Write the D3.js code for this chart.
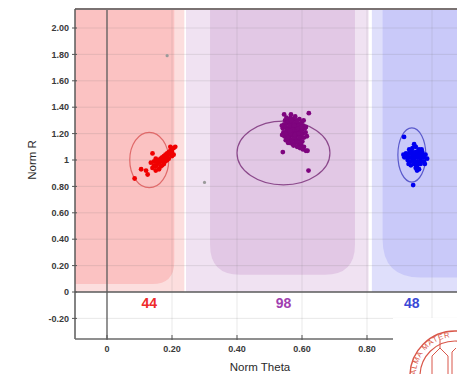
<!DOCTYPE html>
<html>
<head>
<meta charset="utf-8">
<script src="https://cdn.jsdelivr.net/npm/d3@7"></script>
<style>
html,body{margin:0;padding:0;background:#fff;}
svg{display:block;font-family:"Liberation Sans",Arial,sans-serif;}
</style>
</head>
<body>
<svg id="chart" width="457" height="374"></svg>
<script>
// ---------- data ----------
const thetaTicks = [0, 0.2, 0.4, 0.6, 0.8];
const thetaTickLabels = ["0", "0.20", "0.40", "0.60", "0.80"];
const rTicks = [-0.2, 0, 0.2, 0.4, 0.6, 0.8, 1.0, 1.2, 1.4, 1.6, 1.8, 2.0];
const rTickLabels = ["-0.20", "0", "0.20", "0.40", "0.60", "0.80", "1", "1.20", "1.40", "1.60", "1.80", "2.00"];

const clusterNames = ["AA", "AB", "BB"];
const clusterCounts = [44, 98, 48];

// classification regions (Norm Theta ranges / lower Norm R bound)
const outerTheta = [[-0.3, 0.238], [0.243, 0.805], [0.815, 1.4]];
const innerTheta = [[-0.3, 0.207], [0.317, 0.763], [0.848, 1.4]];
const innerRmin = [0.06, 0.13, 0.11];

// cluster ellipses
const ellipseCenters = [[0.13, 1.0], [0.543, 1.053], [0.938, 1.038]];
const ellipseRadii = [[0.06, 0.21], [0.143, 0.242], [0.043, 0.205]];

// samples [Norm Theta, Norm R]
const aaPoints = [
  [0.085,0.86],[0.140,1.05],[0.135,0.98],[0.120,0.92],[0.125,0.89],[0.105,0.93],
  [0.140,0.94],[0.145,0.96],[0.150,0.95],[0.155,0.97],[0.155,0.99],[0.160,0.98],
  [0.160,1.00],[0.165,0.99],[0.165,1.01],[0.170,1.00],[0.170,1.02],[0.175,1.01],
  [0.175,1.03],[0.180,1.02],[0.180,1.04],[0.185,1.03],[0.185,1.05],[0.190,1.04],
  [0.190,1.06],[0.195,1.05],[0.195,1.07],[0.200,1.06],[0.200,1.08],[0.205,1.09],
  [0.210,1.10],[0.205,1.04],[0.150,0.92],[0.160,0.93],[0.165,0.95],[0.170,0.96],
  [0.145,0.99],[0.150,1.01],[0.175,0.97],[0.180,0.99],[0.185,1.00],[0.190,1.01],
  [0.200,1.03],[0.195,1.10]
];
const abPoints = [
  [0.548,1.30],[0.556,1.31],[0.565,1.32],[0.574,1.31],[0.583,1.30],[0.592,1.31],[0.600,1.29],
  [0.545,1.27],[0.553,1.28],[0.561,1.27],[0.570,1.28],[0.578,1.27],[0.587,1.28],[0.596,1.27],[0.604,1.26],
  [0.541,1.24],[0.550,1.25],[0.558,1.24],[0.567,1.25],[0.575,1.24],[0.584,1.25],[0.592,1.24],[0.601,1.23],[0.609,1.24],
  [0.543,1.21],[0.552,1.22],[0.560,1.21],[0.569,1.22],[0.577,1.21],[0.586,1.22],[0.594,1.21],[0.603,1.20],[0.611,1.21],
  [0.546,1.18],[0.555,1.19],[0.563,1.18],[0.572,1.19],[0.580,1.18],[0.589,1.19],[0.597,1.18],[0.606,1.17],
  [0.550,1.15],[0.559,1.16],[0.567,1.15],[0.576,1.16],[0.584,1.15],[0.593,1.16],[0.601,1.14],
  [0.562,1.13],[0.571,1.12],[0.580,1.13],[0.590,1.12],[0.598,1.11],[0.606,1.10],
  [0.585,1.10],[0.594,1.09],[0.603,1.08],[0.612,1.07],
  [0.557,1.29],[0.571,1.29],[0.585,1.29],[0.562,1.26],[0.576,1.26],[0.590,1.26],[0.556,1.23],
  [0.571,1.23],[0.583,1.23],[0.597,1.22],[0.548,1.20],[0.565,1.20],[0.581,1.20],[0.590,1.20],
  [0.557,1.17],[0.575,1.17],[0.592,1.17],[0.568,1.14],[0.583,1.14],[0.596,1.13],
  [0.552,1.32],[0.579,1.33],[0.605,1.30],[0.612,1.25],[0.538,1.26],[0.539,1.19],[0.615,1.18],
  [0.557,1.13],[0.574,1.11],[0.588,1.24],[0.566,1.30],[0.599,1.25],[0.578,1.19],[0.563,1.22],
  [0.545,1.345],[0.566,1.345],[0.621,1.355],[0.541,1.06],[0.617,1.07],[0.620,0.92]
];
const bbPoints = [
  [0.930,1.08],[0.940,1.09],[0.950,1.10],[0.960,1.08],[0.945,1.12],
  [0.920,1.05],[0.930,1.05],[0.940,1.06],[0.950,1.06],[0.960,1.05],[0.970,1.06],[0.980,1.04],
  [0.915,1.02],[0.925,1.03],[0.935,1.02],[0.945,1.03],[0.955,1.02],[0.965,1.03],[0.975,1.02],[0.985,1.01],
  [0.925,1.00],[0.935,0.99],[0.945,1.00],[0.955,0.99],[0.965,1.00],[0.975,0.99],
  [0.935,0.96],[0.945,0.97],[0.955,0.96],[0.965,0.97],[0.950,0.94],[0.960,0.93],[0.954,0.92],
  [0.940,1.04],[0.950,1.04],[0.960,1.02],[0.942,1.01],[0.958,1.07],[0.968,1.08],[0.972,1.04],
  [0.932,1.07],[0.948,0.98],[0.962,0.98],[0.928,0.97],[0.978,0.97],[0.912,1.04],
  [0.914,1.175],[0.942,0.81]
];
const unclassifiedPoints = [[0.185,1.79],[0.30,0.83]];

// ---------- styles ----------
const outerColors = ["#fcdede", "#f0e2f2", "#dfdffb"];
const innerColors = ["#fbc2c2", "#e2c8e5", "#c9c9f9"];
const pointColors = ["#f00000", "#7e047e", "#0000f0"];
const ellipseColors = ["#e06a6a", "#8c4a8c", "#5a5acc"];
const countColors = ["#ee2a2a", "#a040b0", "#3a48d6"];
const cornerR = [[0, 22], [30, 30], [38, 0]];

// ---------- scales ----------
const W = 457, H = 374;
const plot = {left: 75, top: 9, right: 470, bottom: 339};
const x = d3.scaleLinear().domain([0, 0.8]).range([107, 367]);
const y = d3.scaleLinear().domain([0, 2.0]).range([292, 28]);

const svg = d3.select("#chart");
svg.append("defs").append("clipPath").attr("id", "clip")
  .append("rect").attr("x", plot.left).attr("y", plot.top)
  .attr("width", plot.right - plot.left).attr("height", plot.bottom - plot.top);

const g = svg.append("g").attr("clip-path", "url(#clip)");
g.append("rect").attr("x", plot.left).attr("y", plot.top)
  .attr("width", plot.right - plot.left).attr("height", plot.bottom - plot.top).attr("fill", "#fff");

function regionPath(x0, x1, yTop, yBot, rl, rr) {
  const p = d3.path();
  p.moveTo(x0, yTop);
  p.lineTo(x1, yTop);
  if (rr > 0) { p.lineTo(x1, yBot - rr); p.quadraticCurveTo(x1, yBot, x1 - rr, yBot); }
  else p.lineTo(x1, yBot);
  if (rl > 0) { p.lineTo(x0 + rl, yBot); p.quadraticCurveTo(x0, yBot, x0, yBot - rl); }
  else p.lineTo(x0, yBot);
  p.closePath();
  return p.toString();
}

clusterNames.forEach((name, i) => {
  g.append("path")
    .attr("d", regionPath(x(outerTheta[i][0]), x(outerTheta[i][1]), y(2.3), y(0), 0, 0))
    .attr("fill", outerColors[i]);
});
clusterNames.forEach((name, i) => {
  g.append("path")
    .attr("d", regionPath(x(innerTheta[i][0]), x(innerTheta[i][1]), y(2.3), y(innerRmin[i]), cornerR[i][0], cornerR[i][1]))
    .attr("fill", innerColors[i]);
});

// grid
g.selectAll("line.vg").data(thetaTicks.filter(d => d !== 0).concat([1.0])).enter().append("line")
  .attr("x1", d => x(d)).attr("x2", d => x(d)).attr("y1", plot.top).attr("y2", plot.bottom)
  .attr("stroke", "rgba(110,110,110,0.16)").attr("stroke-width", 1);
g.selectAll("line.hg").data(rTicks.filter(d => d !== 0)).enter().append("line")
  .attr("x1", plot.left).attr("x2", plot.right).attr("y1", d => y(d)).attr("y2", d => y(d))
  .attr("stroke", "rgba(110,110,110,0.16)").attr("stroke-width", 1);

// zero lines
g.append("line").attr("x1", x(0)).attr("x2", x(0)).attr("y1", plot.top).attr("y2", plot.bottom)
  .attr("stroke", "#5a5a5a").attr("stroke-width", 1.3);
g.append("line").attr("x1", plot.left).attr("x2", plot.right).attr("y1", y(0)).attr("y2", y(0))
  .attr("stroke", "#5a5a5a").attr("stroke-width", 1.5);

// ellipses
clusterNames.forEach((name, i) => {
  const c = ellipseCenters[i], r = ellipseRadii[i];
  g.append("ellipse")
    .attr("cx", x(c[0])).attr("cy", y(c[1]))
    .attr("rx", x(c[0] + r[0]) - x(c[0])).attr("ry", y(c[1]) - y(c[1] + r[1]))
    .attr("fill", "none").attr("stroke", ellipseColors[i]).attr("stroke-width", 1.2);
});

// points
[aaPoints, abPoints, bbPoints].forEach((pts, i) => {
  g.selectAll(null).data(pts).enter().append("circle")
    .attr("cx", d => x(d[0])).attr("cy", d => y(d[1])).attr("r", 2.4)
    .attr("fill", pointColors[i]);
});
g.selectAll(null).data(unclassifiedPoints).enter().append("circle")
  .attr("cx", d => x(d[0])).attr("cy", d => y(d[1])).attr("r", 1.6)
  .attr("fill", "#9a9a9a");

// counts
clusterNames.forEach((name, i) => {
  g.append("text").attr("x", x(ellipseCenters[i][0])).attr("y", y(-0.085))
    .attr("text-anchor", "middle").attr("dominant-baseline", "central")
    .attr("font-size", 14).attr("font-weight", "bold").attr("fill", countColors[i])
    .text(clusterCounts[i]);
});

// frame
svg.append("line").attr("x1", plot.left).attr("x2", W).attr("y1", plot.top).attr("y2", plot.top)
  .attr("stroke", "#7a7272").attr("stroke-width", 2);
svg.append("line").attr("x1", plot.left).attr("x2", plot.left).attr("y1", plot.top).attr("y2", plot.bottom)
  .attr("stroke", "#5a5a5a").attr("stroke-width", 1.5);
svg.append("line").attr("x1", plot.left).attr("x2", W).attr("y1", plot.bottom).attr("y2", plot.bottom)
  .attr("stroke", "#6a6a6a").attr("stroke-width", 1.5);

// y axis ticks & labels
svg.selectAll(null).data(rTicks).enter().append("line")
  .attr("x1", plot.left - 3).attr("x2", plot.left + 2).attr("y1", d => y(d)).attr("y2", d => y(d))
  .attr("stroke", "#555").attr("stroke-width", 1);
svg.selectAll(null).data(rTicks).enter().append("text")
  .attr("x", plot.left - 6).attr("y", d => y(d)).attr("dy", "0.35em")
  .attr("text-anchor", "end").attr("font-size", 9).attr("font-weight", "bold").attr("fill", "#3a3a3a")
  .text((d, i) => rTickLabels[i]);

// x axis ticks & labels
svg.selectAll(null).data(thetaTicks).enter().append("line")
  .attr("x1", d => x(d)).attr("x2", d => x(d)).attr("y1", plot.bottom - 4).attr("y2", plot.bottom + 1)
  .attr("stroke", "#555").attr("stroke-width", 1);
svg.selectAll(null).data(thetaTicks).enter().append("text")
  .attr("x", d => x(d)).attr("y", 352)
  .attr("text-anchor", "middle").attr("font-size", 9).attr("font-weight", "bold").attr("fill", "#3a3a3a")
  .text((d, i) => thetaTickLabels[i]);

// axis titles
svg.append("text").attr("x", 260).attr("y", 371).attr("text-anchor", "middle")
  .attr("font-size", 11.5).attr("fill", "#2a2a2a").text("Norm Theta");
svg.append("text").attr("transform", "translate(36,160) rotate(-90)").attr("text-anchor", "middle")
  .attr("font-size", 11.5).attr("fill", "#2a2a2a").text("Norm R");

// seal (decorative overlay in the corner)
const seal = svg.append("g");
seal.append("rect").attr("x", 393).attr("y", 318).attr("width", 70).attr("height", 60).attr("fill", "#fff");
seal.append("circle").attr("cx", 455).attr("cy", 376).attr("r", 45).attr("fill", "none")
  .attr("stroke", "#d9574a").attr("stroke-width", 1.4);
seal.append("circle").attr("cx", 455).attr("cy", 376).attr("r", 35).attr("fill", "none")
  .attr("stroke", "#d9574a").attr("stroke-width", 1.2);
seal.append("path").attr("id", "sealArc")
  .attr("d", "M 416,380 A 39,39 0 0 1 453,337").attr("fill", "none");
seal.append("text").attr("font-size", 7.5).attr("fill", "#d9574a").attr("letter-spacing", 0.8)
  .append("textPath").attr("href", "#sealArc").attr("startOffset", "8%").text("ALMA MATER");
seal.append("path").attr("d", "M 432,374 L 432,356 L 440,348 L 448,356 L 448,374 M 440,348 L 440,340 M 452,374 L 452,352 L 456,348")
  .attr("fill", "none").attr("stroke", "#d9574a").attr("stroke-width", 1);
</script>
</body>
</html>
